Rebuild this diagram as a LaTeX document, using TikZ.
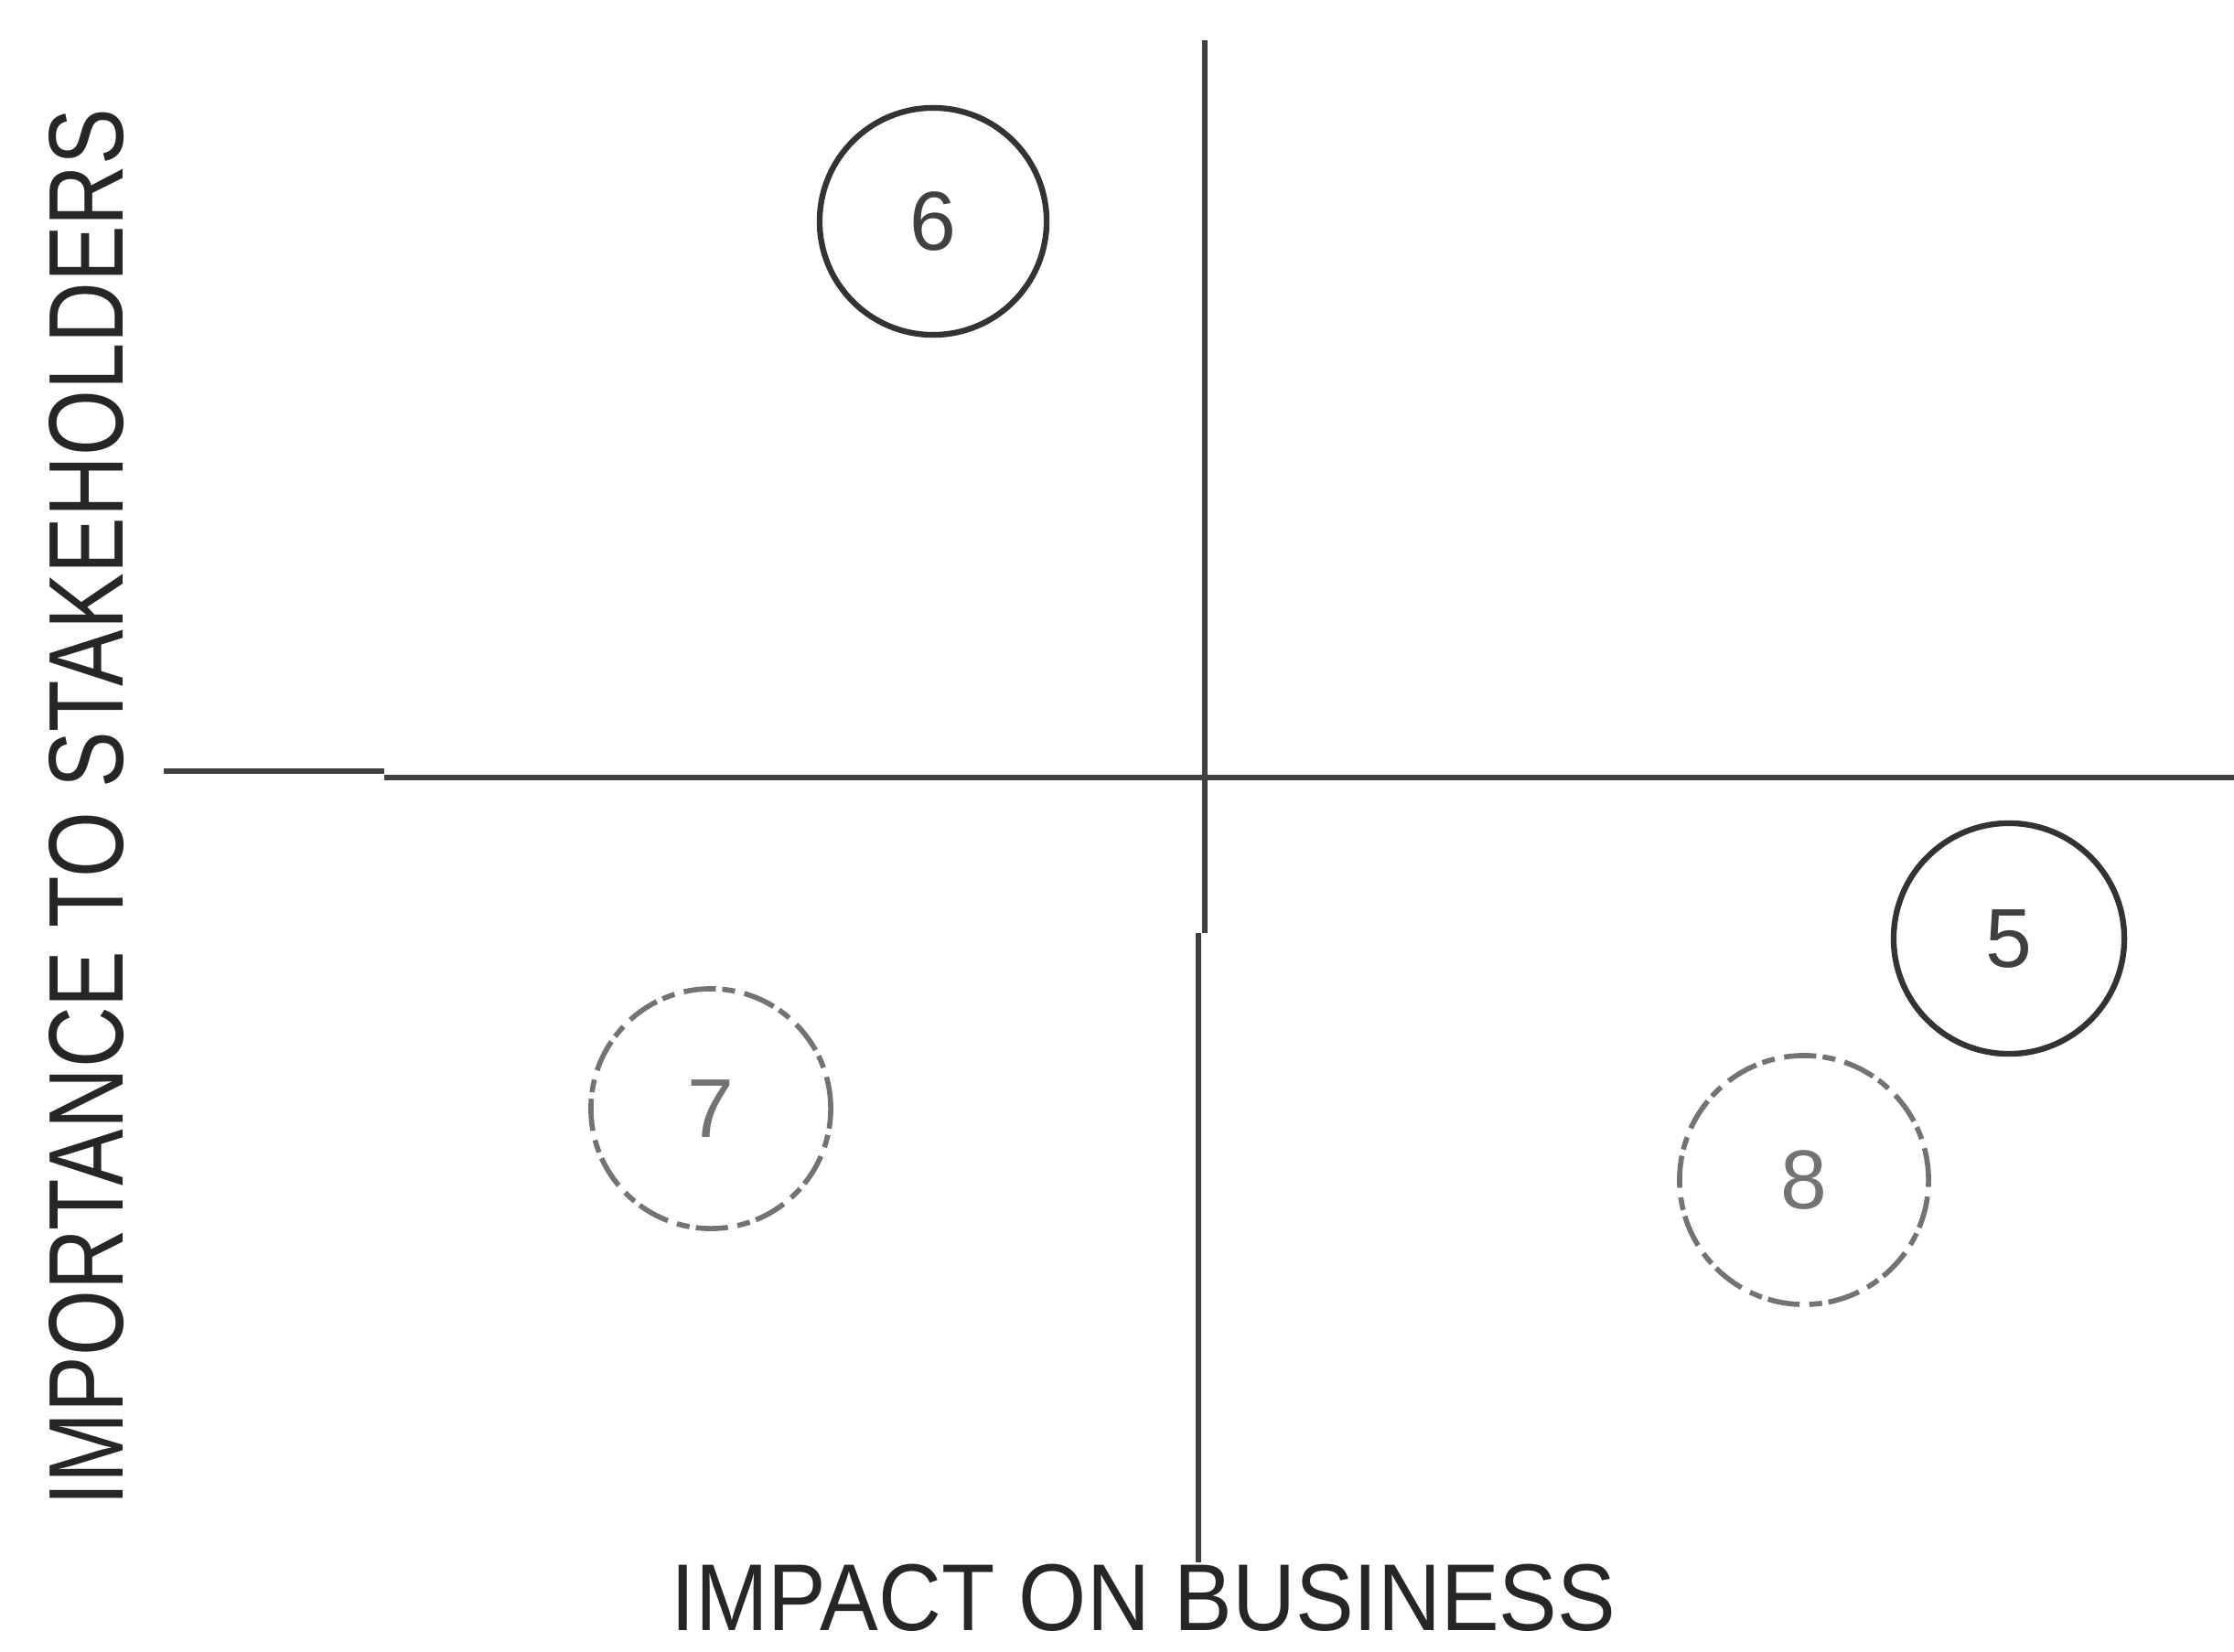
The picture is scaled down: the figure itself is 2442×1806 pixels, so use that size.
\documentclass[tikz,border=0pt]{standalone}
\usepackage{fontspec}
\setmainfont{Liberation Sans}
\begin{document}
\begin{tikzpicture}[x=0.01cm,y=-0.01cm,
  axisline/.style={line width=1.7pt, draw=black!75},
  solidring/.style={circle, draw=black!80, line width=1.8pt, inner sep=0pt},
  brokenring/.style={circle, draw=black!55, line width=1.6pt, inner sep=0pt, dash pattern=on 10pt off 3pt on 4pt off 2pt},
  ringlabel/.style={font=\fontsize{26}{30}\selectfont, text=black!75},
  axistitle/.style={text=black!85}]
\useasboundingbox (0,0) rectangle (2442,1806);
% axes
\coordinate (hL) at (179,843);
\coordinate (hS1) at (420,843);
\coordinate (hS2) at (420,850);
\coordinate (hR) at (2442,850);
\coordinate (vT) at (1317,44);
\coordinate (vM1) at (1317,1020);
\coordinate (vM2) at (1310,1020);
\coordinate (vB) at (1310,1708);
\draw[axisline] (hL) -- (hS1);
\draw[axisline] (hS2) -- (hR);
\draw[axisline] (vT) -- (vM1);
\draw[axisline] (vM2) -- (vB);
% circles
\node[solidring, minimum size=2.48cm] (c6) at (1020,242) {};
\node[ringlabel] (l6) at (c6.center) {6};
\node[solidring, minimum size=2.52cm] (c5) at (2196,1026) {};
\node[ringlabel] (l5) at (c5.center) {5};
\node[brokenring, minimum size=2.62cm] (c7) at (777,1212) {};
\node[ringlabel, text=black!55] (l7) at (c7.center) {7};
\node[brokenring, minimum size=2.72cm] (c8) at (1972,1290) {};
\node[ringlabel, text=black!55] (l8) at (c8.center) {8};
% axis titles
\node[axistitle, anchor=base, inner sep=0pt, font=\fontsize{29.5}{32}\selectfont] (xt) at (1250,1782) {\scalebox{0.92}[1]{IMPACT ON BUSINESS}};
\node[axistitle, anchor=base, rotate=90, inner sep=0pt, font=\fontsize{33}{36}\selectfont] (yt) at (134,883) {\scalebox{0.796}[1]{IMPORTANCE TO STAKEHOLDERS}};
\end{tikzpicture}
\end{document}
